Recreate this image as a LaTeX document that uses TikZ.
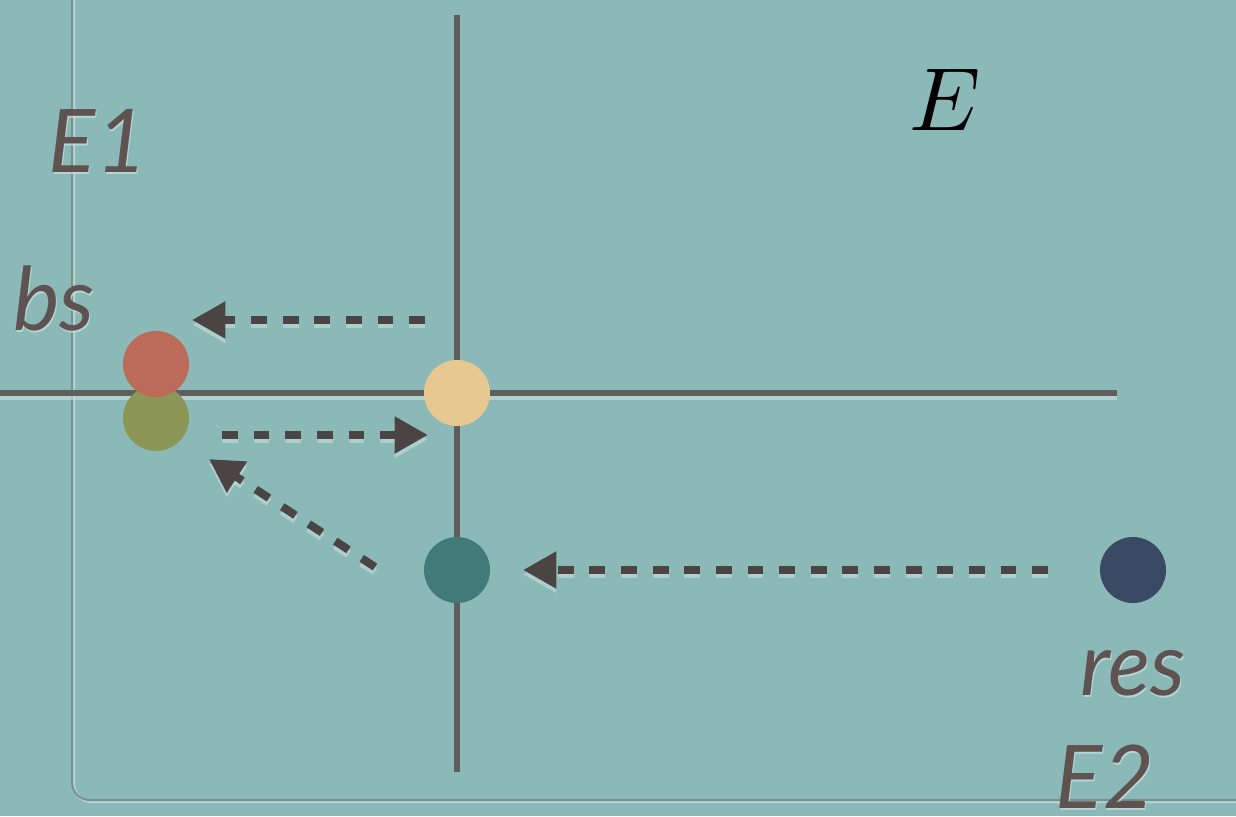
\documentclass[tikz,border=0pt]{standalone}
\usepackage{fontspec}
\setsansfont{Lato}
\usetikzlibrary{arrows.meta}
\definecolor{bg}{HTML}{8BB9B8}
\definecolor{axis}{HTML}{5F5E5C}
\definecolor{arr}{HTML}{4A4542}
\definecolor{lbl}{HTML}{5E5351}
\definecolor{glow}{HTML}{C8E2E0}
\definecolor{frame}{HTML}{7A908F}
\definecolor{cred}{HTML}{BC6B5A}
\definecolor{colive}{HTML}{8C9657}
\definecolor{cpeach}{HTML}{E8C891}
\definecolor{cteal}{HTML}{417A76}
\definecolor{cnavy}{HTML}{3A4A64}
\tikzset{
  dot/.style={circle, minimum size=1.32cm, inner sep=0pt, draw=none},
  axisline/.style={draw=axis, line width=3.4pt},
  dasharrow/.style={draw=arr, line width=4.6pt, dash pattern=on 9pt off 9pt,
     -{Triangle[length=19pt,width=20pt]}},
  glowarrow/.style={draw=glow, line width=4.6pt, dash pattern=on 9pt off 9pt, opacity=0.55,
     -{Triangle[length=19pt,width=20pt]}},
  lab/.style={font=\sffamily\itshape\fontsize{50}{54}\selectfont, text=lbl, inner sep=0pt, anchor=base},
  labglow/.style={font=\sffamily\itshape\fontsize{50}{54}\selectfont, text=glow, inner sep=0pt, anchor=base, opacity=0.7}
}
\begin{document}
\begin{tikzpicture}[x=0.02cm, y=-0.02cm]
\fill[bg] (0,0) rectangle (1236,816);
\useasboundingbox (0,0) rectangle (1236,816);
% frame
\draw[glow, line width=1.6pt, opacity=0.6, rounded corners=10pt] (74,0) -- (74,802) -- (1236,802);
\draw[frame, line width=1.1pt, rounded corners=10pt] (72,0) -- (72,800) -- (1236,800);
% axes
\coordinate (vt) at (457,15);
\coordinate (vb) at (457,772);
\coordinate (hl) at (0,393);
\coordinate (hr) at (1117,393);
\draw[glow, line width=3.4pt, opacity=0.6] ([yshift=-2.5pt]hl) -- ([yshift=-2.5pt]hr);
\draw[axisline] (vt) -- (vb);
\draw[axisline] (hl) -- (hr);
% dots
\node[dot, fill=cpeach] (peach) at (457,393) {};
\node[dot, fill=colive] (olive) at (156,418) {};
\node[dot, fill=cred] (red) at (156,364) {};
\node[dot, fill=cteal] (teal) at (457,570) {};
\node[dot, fill=cnavy] (navy) at (1133,570) {};
% arrow end points
\coordinate (a1s) at (425,320); \coordinate (a1e) at (192,320);
\coordinate (a2s) at (222,435); \coordinate (a2e) at (428,435);
\coordinate (a3s) at (375,567); \coordinate (a3e) at (209,459);
\coordinate (a4s) at (1048,570); \coordinate (a4e) at (523,570);
% glow of arrows
\foreach \s/\e in {a1s/a1e,a2s/a2e,a3s/a3e,a4s/a4e}{
  \draw[glowarrow] ([yshift=-2.5pt]\s) -- ([yshift=-2.5pt]\e);
}
\draw[dasharrow] (a1s) -- (a1e);
\draw[dasharrow] (a2s) -- (a2e);
\draw[dasharrow] (a3s) -- (a3e);
\draw[dasharrow] (a4s) -- (a4e);
% labels
\node[labglow] at (99,174) {E1};
\node[lab] (e1) at (98,172) {E1};
\node[labglow] at (55,332) {bs};
\node[lab] (bs) at (54,330) {bs};
\node[labglow] at (1134,697) {res};
\node[lab] (res) at (1133,695) {res};
\node[labglow] at (1106,810) {E2};
\node[lab] (e2) at (1105,808) {E2};
\node[anchor=base, inner sep=0pt] (E) at (945,130) {\scalebox{5.1}{$E$}};
\end{tikzpicture}
\end{document}
